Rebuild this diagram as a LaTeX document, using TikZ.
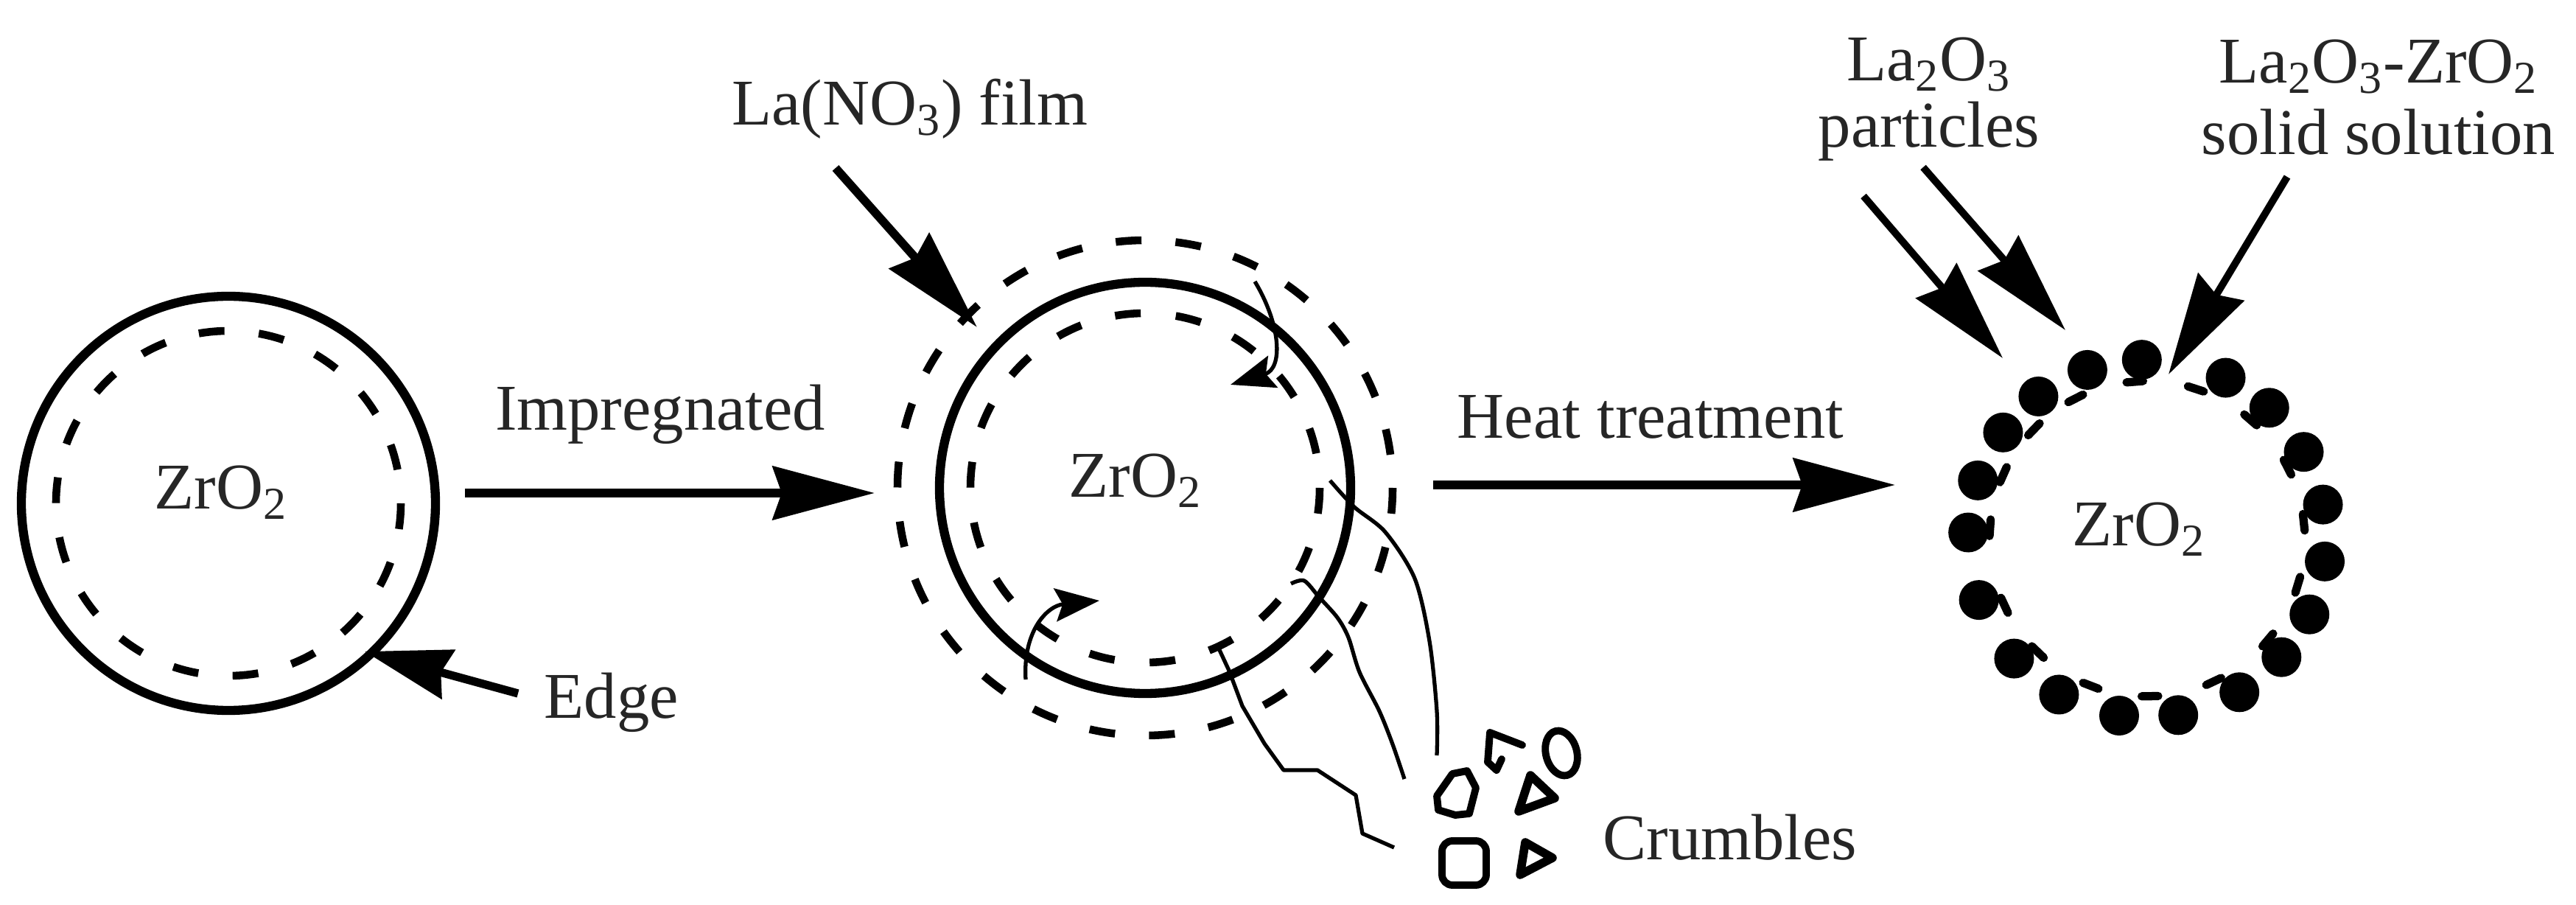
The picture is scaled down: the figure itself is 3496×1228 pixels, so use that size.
\documentclass[tikz,border=0pt]{standalone}
\usepackage{fontspec}
\setmainfont{Liberation Serif}
\usetikzlibrary{arrows.meta}
\begin{document}
\begin{tikzpicture}[x=0.01cm,y=-0.01cm,
  lbl/.style={inner sep=0pt, font=\fontsize{25.2}{30}\selectfont, text=black!85},
  solidring/.style={line width=3.5pt},
  dring/.style={line width=3pt, dash pattern=on 0.35cm off #1cm},
  big/.style={line width=3.3pt, -{Stealth[length=1.38cm,width=0.72cm,inset=0.12cm]}},
  thinline/.style={line width=1.5pt, line join=round},
  smallarrow/.style={line width=1.5pt, -{Stealth[length=0.6cm,width=0.45cm,inset=0.1cm]}},
  crumb/.style={line width=2.8pt, line join=round, line cap=round},
  tailmark/.style={line width=3.2pt, line cap=round}
]
\useasboundingbox (0,0) rectangle (3496,1228);
\fill[white] (0,0) rectangle (3496,1228);

% ---------- left particle ----------
\coordinate (cA) at (310,683);
\draw[solidring] (cA) circle[radius=281];
\draw[dring=0.4668] (cA) circle[radius=234];
\node[lbl, anchor=base] (zA) at (300,691) {ZrO\textsubscript{2}};

\node[lbl, anchor=base west] (edge) at (738,975) {Edge};
\coordinate (edgeT) at (703,941);
\coordinate (edgeH) at (495,884);
\draw[line width=3.2pt, -{Stealth[length=1.17cm,width=0.68cm,inset=0.1cm]}] (edgeT) -- (edgeH);

% ---------- impregnation ----------
\node[lbl, anchor=base] (imp) at (896,584) {Impregnated};
\coordinate (impS) at (631,669);
\coordinate (impE) at (1187,669);
\draw[big] (impS) -- (impE);

% ---------- middle particle ----------
\coordinate (cB) at (1554,662);
\draw[solidring] (cB) circle[radius=279];
\draw[dring=0.4773] (cB) circle[radius=237];
\draw[dring=0.462] (cB) circle[radius=336];
\node[lbl, anchor=base] (zB) at (1541,675) {ZrO\textsubscript{2}};

\node[lbl, anchor=base] (film) at (1235,170) {La(NO\textsubscript{3}) film};
\coordinate (filmT) at (1134,228);
\coordinate (filmH) at (1326,444);
\draw[big] (filmT) -- (filmH);

% small curved arrows
\coordinate (sa1s) at (1703,382);
\coordinate (sa1e) at (1670,522);
\draw[smallarrow] (sa1s) .. controls (1738,440) and (1742,500) .. (sa1e);
\coordinate (sa2s) at (1392,922);
\coordinate (sa2e) at (1492,815);
\draw[smallarrow] (sa2s) .. controls (1388,858) and (1420,822) .. (sa2e);

% cracks
\draw[thinline] plot[smooth] coordinates {(1805,652) (1838,688) (1880,722) (1920,785) (1940,870) (1950,965) (1950,1025)};
\draw[thinline] plot[smooth] coordinates {(1752,792) (1770,788) (1790,810) (1815,838) (1830,865) (1845,912) (1872,965) (1890,1010) (1906,1057)};
\draw[thinline] (1655,882) -- (1668,910) -- (1686,958) -- (1716,1009) -- (1742,1045) -- (1788,1045) -- (1840,1079) -- (1849,1131) -- (1892,1150);

% crumbles
\draw[crumb] (2066,1011) -- (2022,994) -- (2019,1034) -- (2031,1045) -- (2038,1030);
\draw[crumb, rotate around={15:(2119,1022)}] (2119,1022) ellipse[x radius=21, y radius=31];
\draw[crumb] (1950,1080) -- (1971,1050) -- (1991,1046) -- (2003,1069) -- (1994,1104) -- (1975,1106) -- (1952,1099) -- cycle;
\draw[crumb, line width=3.3pt] (2061,1101) -- (2077,1052) -- (2110,1083) -- cycle;
\draw[crumb, rounded corners=4] (1957,1141) rectangle (2017,1201);
\draw[crumb, line width=3.3pt] (2063,1187) -- (2070,1143) -- (2107,1164) -- cycle;
\node[lbl, anchor=base west] (crum) at (2175,1166) {Crumbles};

% ---------- heat treatment ----------
\node[lbl, anchor=base] (heat) at (2240,595) {Heat treatment};
\coordinate (heatS) at (1945,658);
\coordinate (heatE) at (2572,658);
\draw[big] (heatS) -- (heatE);

% ---------- right particle ----------
\coordinate (cC) at (2914,731);
\foreach \a in {91.7,109.5,127.4,143.6,161,178,200,222,240.5,261,280,301,318.6,335,352.7,11,29,47,64}{
  \fill (cC) ++(-\a:243) circle[radius=27];
}
\foreach \a in {72,49,27,6,343,320,295,271,249,226,205,176,156,136,117,94.5}{
  \path (cC) ++(-\a-3:214) coordinate (tA);
  \path (cC) ++(-\a+3:214) coordinate (tB);
  \draw[tailmark] (tA) -- (tB);
}
\node[lbl, anchor=base] (zC) at (2903,741) {ZrO\textsubscript{2}};

\node[lbl, anchor=base] (lp1) at (2618,110) {La\textsubscript{2}O\textsubscript{3}};
\node[lbl, anchor=base] (lp2) at (2618,200) {particles};
\node[lbl, anchor=base] (ss1) at (3228,113) {La\textsubscript{2}O\textsubscript{3}-ZrO\textsubscript{2}};
\node[lbl, anchor=base] (ss2) at (3228,210) {solid solution};

\coordinate (pAT) at (2529,266);
\coordinate (pAH) at (2718,486);
\coordinate (pBT) at (2610,227);
\coordinate (pBH) at (2803,448);
\coordinate (sT) at (3104,240);
\coordinate (sH) at (2943,508);
\draw[big, line width=2.8pt] (pAT) -- (pAH);
\draw[big, line width=2.8pt] (pBT) -- (pBH);
\draw[big, line width=2.8pt] (sT) -- (sH);
\end{tikzpicture}
\end{document}
